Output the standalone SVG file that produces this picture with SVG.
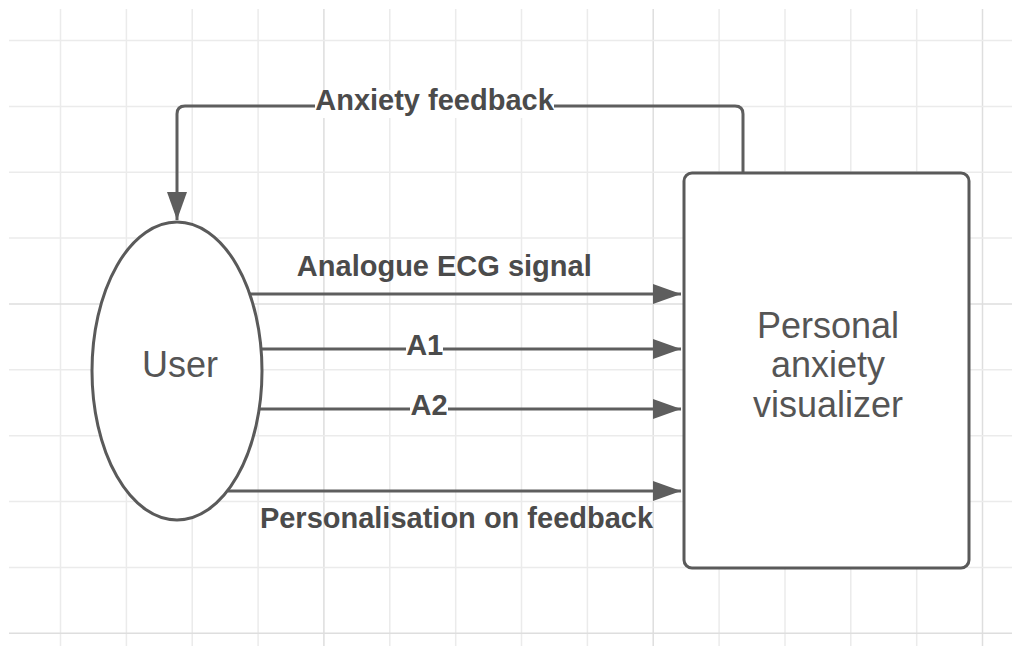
<svg xmlns="http://www.w3.org/2000/svg" width="1018" height="646" viewBox="0 0 1018 646">
  <defs>
    <style>
      .grid { stroke: #ebebeb; stroke-width: 1.5; fill: none; }
      .gridm { stroke: #dedede; stroke-width: 1.5; fill: none; }
      .shape { fill: #ffffff; stroke: #5a5a5a; stroke-width: 3; }
      .conn { fill: none; stroke: #5e5e5e; stroke-width: 3; }
      .lbl { font-family: "Liberation Sans", Arial, sans-serif; font-weight: bold; font-size: 29px; fill: #4b4b4b; text-anchor: middle; }
      .node { font-family: "Liberation Sans", Arial, sans-serif; font-size: 36px; fill: #555555; text-anchor: middle; }
      .bg { fill: #ffffff; }
    </style>
    <marker id="arr" markerUnits="userSpaceOnUse" markerWidth="28" markerHeight="20" refX="28" refY="10" orient="auto">
      <path d="M0,0 L28,10 L0,20 z" fill="#5e5e5e"/>
    </marker>
  </defs>
  <rect width="1018" height="646" fill="#ffffff"/>
  <g id="grid">
    <path class="grid" d="M60.5,9V646 M126.4,9V646 M192.2,9V646 M258.1,9V646 M389.8,9V646 M455.7,9V646 M521.5,9V646 M587.4,9V646 M719.1,9V646 M785,9V646 M850.8,9V646 M916.7,9V646"/>
    <path class="gridm" d="M323.9,9V646 M653.2,9V646 M982.5,9V646"/>
    <path class="grid" d="M9,40.5H1012 M9,106.4H1012 M9,172.2H1012 M9,238.1H1012 M9,369.8H1012 M9,435.7H1012 M9,501.5H1012 M9,567.4H1012"/>
    <path class="gridm" d="M9,303.9H1012 M9,633.2H1012"/>
  </g>
  <g id="connectors">
    <path class="conn" d="M743,172 V114 Q743,106 735,106 H185 Q177,106 177,114 V220" marker-end="url(#arr)"/>
    <path class="conn" d="M250,294 H681" marker-end="url(#arr)"/>
    <path class="conn" d="M261,349 H681" marker-end="url(#arr)"/>
    <path class="conn" d="M259,409 H681" marker-end="url(#arr)"/>
    <path class="conn" d="M228,491 H681" marker-end="url(#arr)"/>
    <rect class="bg" x="315" y="90" width="239" height="28"/>
    <text class="lbl" x="434.5" y="110">Anxiety feedback</text>
    <text class="lbl" x="444.3" y="276">Analogue ECG signal</text>
    <rect class="bg" x="406" y="334" width="37" height="28"/>
    <text class="lbl" x="424.7" y="355">A1</text>
    <rect class="bg" x="410" y="394" width="38" height="28"/>
    <text class="lbl" x="429" y="415">A2</text>
    <text class="lbl" x="456.5" y="527.5">Personalisation on feedback</text>
  </g>
  <g id="user">
    <ellipse class="shape" cx="177" cy="371" rx="85" ry="149"/>
    <text class="node" x="180" y="377">User</text>
  </g>
  <g id="visualizer">
    <rect class="shape" x="684" y="173" width="285" height="395" rx="8"/>
    <text class="node" x="828" y="337.5">Personal</text>
    <text class="node" x="828" y="377">anxiety</text>
    <text class="node" x="828" y="416.5">visualizer</text>
  </g>
</svg>
